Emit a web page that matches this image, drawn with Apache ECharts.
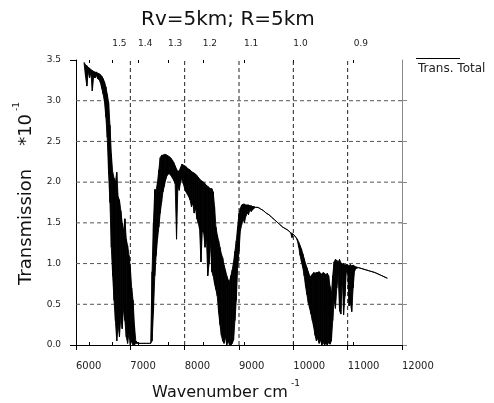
<!DOCTYPE html>
<html><head><meta charset="utf-8">
<script src="https://cdn.jsdelivr.net/npm/echarts@6/dist/echarts.min.js"></script>
<style>html,body{margin:0;padding:0;background:#fff}#c{width:494px;height:403px}</style>
</head><body><div id="c"></div>
<script>
// Wavenumber samples (cm^-1) with upper / lower envelope of the dense transmission spectrum (x10^-1)
const wavenumber = [
6150,6175,6200,6225,6250,6275,6300,6325,6350,6375,6400,6425,6450,6475,6500,6525,6550,6575,6600,6625,6650,6675,6700,6725,6750,6775,6800,6825,6850,6875,6900,6925,6950,6975,7000,7025,7050,7075,7100,
7150,7200,7250,7300,7350,
7375,7400,7425,7450,7475,7500,7525,7550,7575,7600,7625,7650,7675,7700,7725,7750,7775,7800,7825,7850,7875,7900,7925,7950,7975,8000,8025,8050,8075,8100,8125,8150,8175,8200,8225,8250,8275,8300,8325,8350,8375,8400,8425,8450,8475,8500,8525,8550,8575,8600,8625,8650,8675,8700,8725,8750,8775,8800,8825,8850,8875,8900,8925,8950,8975,9000,9025,9050,9075,9100,9125,9150,9175,9200,
9225,9250,9275,9300,9350,9400,9450,9500,9550,9600,9650,9700,9750,9800,9850,9900,9950,9975,10000,10050,
10075,10100,10125,10150,10175,10200,10225,10250,10275,10300,10325,10350,10375,10400,10425,10450,10475,10500,10525,10550,10575,10600,10625,10650,10675,10700,10725,10750,10775,10800,10825,10850,10875,10900,10925,10950,10975,11000,11025,11050,11075,11100,11125,11150,
11200,11300,11400,11500,11600,11730
];
const upperT = [
3.47,3.44,3.43,3.41,3.40,3.38,3.37,3.36,3.35,3.35,3.34,3.33,3.32,3.30,3.27,3.23,3.17,3.08,2.98,2.70,2.35,2.12,2.05,2.00,2.12,1.82,1.78,1.65,1.50,1.40,1.55,1.30,1.22,1.10,0.95,0.70,0.55,0.25,0.05,
0.02,0.02,0.02,0.02,0.02,
0.02,0.90,1.50,1.91,1.90,2.00,2.15,2.30,2.33,2.33,
2.34,2.34,2.33,2.32,2.31,2.29,2.27,2.24,2.20,2.16,
2.13,2.14,2.18,2.22,2.21,2.20,2.19,2.17,2.16,2.15,
2.13,2.12,2.11,2.10,2.08,2.06,2.04,2.02,2.01,2.00,
1.98,1.96,1.95,1.93,1.92,1.92,1.88,1.70,1.45,1.35,
1.28,1.20,1.12,1.07,0.98,0.92,0.85,0.80,0.78,0.85,
0.92,1.02,1.15,1.28,1.45,1.62,1.68,1.72,1.73,1.73,
1.72,1.72,1.72,1.71,
1.71,1.70,1.70,1.69,1.69,1.67,1.65,1.62,1.60,1.57,1.54,1.51,1.48,1.45,1.43,1.41,1.38,1.37,1.36,1.32,
1.30,1.26,1.22,1.18,1.12,1.06,1.00,0.95,0.90,0.85,
0.84,0.87,0.89,0.88,0.89,0.89,0.90,0.88,0.87,0.89,
0.88,0.86,0.88,0.85,0.72,0.62,0.85,1.02,1.05,1.04,
1.02,1.05,1.01,0.99,1.00,0.98,0.99,0.98,0.97,0.99,
0.97,0.98,0.97,0.96,
0.95,0.93,0.91,0.89,0.86,0.82
];
const lowerT = [
3.45,3.30,3.18,3.36,3.28,3.35,3.12,3.30,3.28,3.31,3.27,3.26,3.22,3.15,3.08,2.98,2.80,2.55,2.10,1.75,1.20,0.85,0.55,0.30,0.05,0.25,0.10,0.35,0.20,0.45,0.30,0.10,0.02,0.15,0.00,0.05,0.00,0.00,0.02,
0.02,0.02,0.02,0.02,0.02,
0.02,0.05,0.40,0.85,1.10,1.30,1.45,1.62,1.75,1.88,
1.95,2.03,2.08,2.10,2.10,2.08,2.05,2.02,1.98,1.30,
1.95,1.90,2.00,2.05,1.98,1.92,1.88,1.85,1.82,1.78,
1.70,1.74,1.62,1.68,1.55,1.50,1.42,1.02,1.40,1.38,
1.20,1.32,0.85,1.00,1.25,0.90,0.85,0.75,0.68,0.60,
0.40,0.25,0.12,0.05,0.02,0.10,0.00,0.05,0.00,0.00,
0.02,0.06,0.30,0.55,0.95,1.15,1.40,1.48,1.55,1.50,
1.58,1.62,1.60,1.66,
1.64,1.66,1.68,1.69,1.69,1.67,1.65,1.62,1.60,1.57,1.54,1.51,1.48,1.45,1.43,1.41,1.38,1.32,1.36,1.32,
1.28,1.20,1.10,1.02,0.95,0.85,0.72,0.62,0.52,0.45,
0.38,0.30,0.22,0.12,0.05,0.08,0.02,0.06,0.00,0.03,
0.00,0.02,0.00,0.03,0.01,0.05,0.30,0.55,0.45,0.70,
0.88,0.42,0.38,0.85,0.37,0.60,0.90,0.88,0.48,0.52,
0.41,0.70,0.90,0.94,
0.95,0.93,0.91,0.89,0.86,0.82
];
const xTicks = [6000, 7000, 8000, 9000, 10000, 11000, 12000];
const yTicks = [0.0, 0.5, 1.0, 1.5, 2.0, 2.5, 3.0, 3.5];
const gridX = [7000, 8000, 9000, 10000, 11000];
const gridY = [0.5, 1.0, 1.5, 2.0, 2.5, 3.0];
const wavelengthTicks = [1.6, 1.5, 1.4, 1.3, 1.2, 1.1, 1.0, 0.9];   // micrometres (top axis)
const wavelengthLabels = [1.5, 1.4, 1.3, 1.2, 1.1, 1.0, 0.9];

const xMin = xTicks[0], xMax = xTicks[xTicks.length - 1];
const yMin = yTicks[0], yMax = yTicks[yTicks.length - 1];

const bandData = wavenumber.map((w, i) => [w, lowerT[i], upperT[i]]);

const FONT = 'DejaVu Sans';
const chart = echarts.init(document.getElementById('c'), null, {renderer: 'canvas'});

const gridSeries = [];
gridY.forEach(v => gridSeries.push({
  type: 'line', silent: true, symbol: 'none', z: 1, animation: false,
  data: [[xMin, v], [xMax, v]],
  lineStyle: {color: '#555', width: 1, type: [4, 3]}
}));
gridX.forEach(v => gridSeries.push({
  type: 'line', silent: true, symbol: 'none', z: 1, animation: false,
  data: [[v, yMin], [v, yMax]],
  lineStyle: {color: '#222', width: 1, type: [4, 3]}
}));

function renderBand(params, api) {
  const i = params.dataIndex;
  if (i >= wavenumber.length - 1) return null;
  const a = api.coord([wavenumber[i], upperT[i]]);
  const b = api.coord([wavenumber[i + 1], upperT[i + 1]]);
  const c = api.coord([wavenumber[i + 1], lowerT[i + 1]]);
  const d = api.coord([wavenumber[i], lowerT[i]]);
  return {
    type: 'polygon',
    shape: {points: [a, b, c, d]},
    style: {fill: '#000', stroke: '#000', lineWidth: 0.9}
  };
}

chart.setOption({
  backgroundColor: '#fff',
  animation: false,
  title: {
    text: 'Rv=5km; R=5km', left: 141, top: 10, padding: 0,
    textStyle: {fontFamily: FONT, fontSize: 20, fontWeight: 'normal', color: '#111'}
  },
  legend: {
    data: ['Trans. Total'], left: 413, top: 62, padding: 0, icon: 'none', itemWidth: 0,
    selectedMode: false,
    textStyle: {fontFamily: FONT, fontSize: 12, color: '#222'}
  },
  graphic: [{
    type: 'line', silent: true,
    shape: {x1: 416, y1: 58.5, x2: 460, y2: 58.5},
    style: {stroke: '#000', lineWidth: 1}
  }],
  grid: {left: 76, right: 92, top: 60, bottom: 58, containLabel: false, outerBoundsMode: 'none'},
  xAxis: [{
    type: 'value', position: 'bottom', min: xMin, max: xMax, interval: 1000,
    axisLine: {lineStyle: {color: '#000', width: 1}},
    axisTick: {length: 5, lineStyle: {color: '#000'}},
    axisLabel: {align: 'left', margin: 16, fontSize: 10, fontFamily: FONT, color: '#222', formatter: v => String(v)},
    splitLine: {show: false},
    name: '{a|Wavenumber cm}{c|-1}', nameLocation: 'middle', nameGap: 34,
    nameTextStyle: {
      padding: [0, 26, 0, 0],
      rich: {
        a: {fontFamily: FONT, fontSize: 16, color: '#111', lineHeight: 22, verticalAlign: 'bottom'},
        c: {fontFamily: FONT, fontSize: 9, color: '#111', lineHeight: 10, verticalAlign: 'top', padding: [0, 0, 0, 3]}
      }
    }
  }, {
    type: 'value', position: 'top', min: xMin, max: xMax,
    axisLine: {lineStyle: {color: '#000', width: 1}},
    axisTick: {length: 3, lineStyle: {color: '#000'}, customValues: wavelengthTicks.map(l => 10000 / l)},
    axisLabel: {
      align: 'left', margin: 12, fontSize: 9, fontFamily: FONT, color: '#222',
      customValues: wavelengthLabels.map(l => 10000 / l),
      formatter: v => (10000 / v).toFixed(1)
    },
    splitLine: {show: false}
  }, {
    type: 'value', position: 'top', min: xMin, max: xMax,
    axisLine: {show: false},
    axisTick: {inside: true, length: 3, lineStyle: {color: '#000'}, customValues: wavelengthTicks.map(l => 10000 / l)},
    axisLabel: {show: false},
    splitLine: {show: false}
  }],
  yAxis: [{
    type: 'value', position: 'left', min: yMin, max: yMax, interval: 0.5,
    axisLine: {show: true, lineStyle: {color: '#000', width: 1}},
    axisTick: {show: true, length: 6, lineStyle: {color: '#000'}, customValues: [yMin, yMax]},
    axisLabel: {margin: 15, fontSize: 9, fontFamily: FONT, color: '#222', padding: [4, 0, 0, 0], formatter: v => v.toFixed(1)},
    splitLine: {show: false},
    name: '{a|Transmission    }{b|*10}{c|-1}', nameLocation: 'middle', nameGap: 33,
    nameTextStyle: {
      padding: [0, 0, 0, 18],
      rich: {
        a: {fontFamily: FONT, fontSize: 18, color: '#111', lineHeight: 24, verticalAlign: 'bottom'},
        b: {fontFamily: FONT, fontSize: 18, color: '#111', lineHeight: 24, verticalAlign: 'bottom'},
        c: {fontFamily: FONT, fontSize: 9, color: '#111', lineHeight: 10, verticalAlign: 'top', padding: [0, 0, 0, 3]}
      }
    }
  }, {
    type: 'value', position: 'right', min: yMin, max: yMax, interval: 0.5,
    axisLine: {show: true, lineStyle: {color: '#8a8a8a', width: 1}},
    axisTick: {show: true, length: 5, lineStyle: {color: '#8a8a8a'}, customValues: yTicks.slice(0, -1)},
    axisLabel: {show: false},
    splitLine: {show: false}
  }],
  series: gridSeries.concat([{
    name: 'Trans. Total', type: 'custom', data: bandData,
    xAxisIndex: 0, yAxisIndex: 0, z: 3, clip: true,
    encode: {x: 0, y: [1, 2]},
    renderItem: renderBand,
    itemStyle: {color: '#000'}
  }])
});
</script></body></html>
